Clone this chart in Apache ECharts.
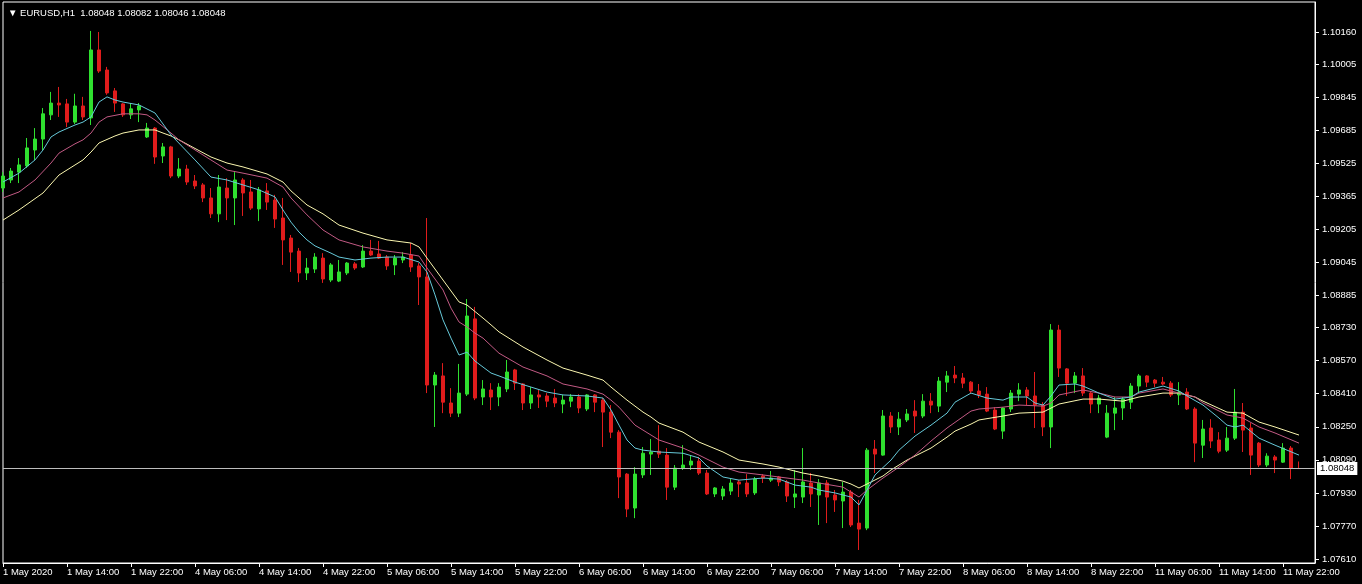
<!DOCTYPE html>
<html><head><meta charset="utf-8">
<script src="https://cdn.jsdelivr.net/npm/echarts@6/dist/echarts.min.js"></script>
<style>html,body{margin:0;padding:0;background:#000;}#c{width:1362px;height:584px;}</style>
</head><body><div id="c"></div>
<script>
const symbolName = 'EURUSD,H1';
const sessions = [['1 May',6,23],['4 May',0,23],['5 May',0,23],['6 May',0,23],['7 May',0,23],['8 May',0,23],['11 May',0,23],['12 May',0,0]];
const tickLabels = ['1 May 2020','1 May 14:00','1 May 22:00','4 May 06:00','4 May 14:00','4 May 22:00','5 May 06:00','5 May 14:00','5 May 22:00','6 May 06:00','6 May 14:00','6 May 22:00','7 May 06:00','7 May 14:00','7 May 22:00','8 May 06:00','8 May 14:00','8 May 22:00','11 May 06:00','11 May 14:00','11 May 22:00'];
const yTicks = [1.07610,1.07770,1.07930,1.08090,1.08250,1.08410,1.08570,1.08730,1.08885,1.09045,1.09205,1.09365,1.09525,1.09685,1.09845,1.10005,1.10160];

const opens = [
1.09405,1.09444,1.09482,1.09512,1.09589,1.09642,1.09759,1.09816,1.09812,1.09724,
1.09802,1.09744,1.10073,1.09976,1.09875,1.09812,1.09759,1.09783,1.09652,1.09695,
1.09560,1.09604,1.09463,1.09497,1.09439,1.09420,1.09357,1.09280,1.09405,1.09357,
1.09444,1.09386,1.09304,1.09391,1.09347,1.09260,1.09163,1.09100,1.08994,1.09013,
1.09066,1.08960,1.08955,1.08994,1.09038,1.09023,1.09100,1.09086,1.09071,1.09033,
1.09057,1.09081,1.09028,1.08975,1.08452,1.08496,1.08365,1.08316,1.08408,1.08772,
1.08394,1.08428,1.08394,1.08433,1.08525,1.08457,1.08365,1.08404,1.08399,1.08389,
1.08360,1.08374,1.08394,1.08336,1.08404,1.08379,1.08321,1.08224,1.08021,1.07857,
1.08017,1.08118,1.08132,1.08113,1.07958,1.08050,1.08065,1.08084,1.08026,1.07925,
1.07915,1.07939,1.07983,1.07978,1.07930,1.08012,1.07992,1.08007,1.07983,1.07910,
1.07910,1.07978,1.07920,1.07978,1.07920,1.07891,1.07934,1.07784,1.07760,1.08142,
1.08113,1.08302,1.08249,1.08283,1.08326,1.08302,1.08374,1.08350,1.08466,1.08500,
1.08486,1.08466,1.08423,1.08408,1.08331,1.08229,1.08336,1.08408,1.08428,1.08399,
1.08355,1.08249,1.08718,1.08530,1.08461,1.08496,1.08413,1.08360,1.08200,1.08316,
1.08341,1.08369,1.08447,1.08496,1.08476,1.08466,1.08461,1.08404,1.08418,1.08336,
1.08161,1.08244,1.08186,1.08137,1.08195,1.08321,1.08244,1.08171,1.08065,1.08104,
1.08079,1.08147,1.08048];
const highs = [
1.09482,1.09502,1.09550,1.09647,1.09695,1.09792,1.09870,1.09894,1.09836,1.09861,
1.09846,1.10165,1.10160,1.09991,1.09889,1.09816,1.09816,1.09816,1.09720,1.09700,
1.09623,1.09609,1.09550,1.09517,1.09468,1.09429,1.09405,1.09468,1.09453,1.09482,
1.09453,1.09444,1.09410,1.09429,1.09372,1.09357,1.09178,1.09115,1.09066,1.09090,
1.09090,1.09042,1.09057,1.09047,1.09047,1.09129,1.09154,1.09149,1.09081,1.09081,
1.09095,1.09139,1.09042,1.09260,1.08515,1.08558,1.08437,1.08554,1.08868,1.08830,
1.08476,1.08461,1.08461,1.08573,1.08530,1.08461,1.08442,1.08428,1.08413,1.08433,
1.08404,1.08408,1.08408,1.08408,1.08408,1.08389,1.08355,1.08234,1.08026,1.08055,
1.08152,1.08191,1.08258,1.08147,1.08065,1.08161,1.08113,1.08104,1.08041,1.07958,
1.07963,1.07997,1.07992,1.08021,1.08007,1.08021,1.08036,1.08012,1.07992,1.08041,
1.08147,1.08026,1.07997,1.07992,1.07944,1.07983,1.07944,1.07896,1.08147,1.08186,
1.08331,1.08321,1.08321,1.08336,1.08379,1.08408,1.08413,1.08491,1.08520,1.08544,
1.08510,1.08471,1.08457,1.08442,1.08345,1.08345,1.08428,1.08461,1.08442,1.08515,
1.08369,1.08747,1.08743,1.08534,1.08515,1.08534,1.08418,1.08404,1.08355,1.08394,
1.08394,1.08461,1.08505,1.08500,1.08481,1.08491,1.08471,1.08466,1.08437,1.08345,
1.08283,1.08287,1.08224,1.08249,1.08433,1.08365,1.08268,1.08176,1.08122,1.08113,
1.08171,1.08157,1.08082];
const lows = [
1.09386,1.09429,1.09429,1.09502,1.09541,1.09589,1.09734,1.09749,1.09700,1.09715,
1.09734,1.09710,1.09962,1.09856,1.09773,1.09749,1.09739,1.09724,1.09647,1.09522,
1.09526,1.09453,1.09453,1.09420,1.09400,1.09337,1.09260,1.09240,1.09250,1.09226,
1.09270,1.09299,1.09245,1.09299,1.09212,1.09033,1.08999,1.08950,1.08960,1.08994,
1.08946,1.08950,1.08950,1.08984,1.09009,1.09018,1.09076,1.09062,1.09009,1.08984,
1.09042,1.08999,1.08839,1.08413,1.08249,1.08316,1.08297,1.08297,1.08399,1.08379,
1.08355,1.08331,1.08350,1.08418,1.08428,1.08331,1.08336,1.08341,1.08345,1.08345,
1.08316,1.08345,1.08316,1.08326,1.08321,1.08152,1.08195,1.07905,1.07813,1.07808,
1.08002,1.08017,1.08099,1.07896,1.07944,1.08041,1.08041,1.08017,1.07920,1.07910,
1.07896,1.07920,1.07910,1.07910,1.07920,1.07978,1.07983,1.07963,1.07886,1.07857,
1.07881,1.07862,1.07775,1.07784,1.07838,1.07760,1.07765,1.07654,1.07750,1.08026,
1.08110,1.08220,1.08210,1.08273,1.08220,1.08292,1.08316,1.08321,1.08418,1.08461,
1.08437,1.08413,1.08389,1.08321,1.08234,1.08191,1.08321,1.08374,1.08355,1.08244,
1.08205,1.08147,1.08491,1.08399,1.08413,1.08399,1.08316,1.08316,1.08195,1.08234,
1.08283,1.08336,1.08413,1.08442,1.08442,1.08452,1.08394,1.08355,1.08331,1.08079,
1.08099,1.08147,1.08122,1.08128,1.08186,1.08128,1.08017,1.08055,1.08055,1.08026,
1.08075,1.07997,1.08046];
const closes = [
1.09463,1.09487,1.09517,1.09599,1.09642,1.09764,1.09816,1.09807,1.09724,1.09802,
1.09749,1.10073,1.09971,1.09865,1.09816,1.09759,1.09788,1.09802,1.09695,1.09555,
1.09604,1.09463,1.09497,1.09434,1.09415,1.09357,1.09280,1.09410,1.09357,1.09444,
1.09381,1.09308,1.09396,1.09337,1.09255,1.09154,1.09095,1.08994,1.09018,1.09071,
1.08965,1.09033,1.08999,1.09042,1.09018,1.09100,1.09081,1.09066,1.09028,1.09066,
1.09071,1.09023,1.08975,1.08452,1.08500,1.08369,1.08316,1.08413,1.08786,1.08389,
1.08433,1.08394,1.08442,1.08515,1.08461,1.08365,1.08404,1.08394,1.08374,1.08365,
1.08379,1.08394,1.08341,1.08404,1.08369,1.08321,1.08224,1.08007,1.07852,1.08021,
1.08122,1.08128,1.08118,1.07958,1.08050,1.08065,1.08084,1.08026,1.07925,1.07954,
1.07949,1.07978,1.07973,1.07925,1.07997,1.08002,1.08002,1.07983,1.07915,1.07925,
1.07983,1.07925,1.07978,1.07910,1.07896,1.07934,1.07775,1.07755,1.08137,1.08118,
1.08302,1.08249,1.08287,1.08312,1.08302,1.08374,1.08355,1.08471,1.08496,1.08486,
1.08461,1.08423,1.08404,1.08326,1.08239,1.08341,1.08413,1.08428,1.08399,1.08355,
1.08249,1.08718,1.08534,1.08461,1.08496,1.08413,1.08360,1.08389,1.08316,1.08341,
1.08384,1.08447,1.08496,1.08466,1.08461,1.08457,1.08404,1.08418,1.08336,1.08171,
1.08239,1.08181,1.08132,1.08195,1.08321,1.08234,1.08113,1.08065,1.08108,1.08089,
1.08147,1.08050,1.08048];

const maFast = [[0,1.09434],[2,1.09477],[4,1.09541],[5,1.09589],[6,1.09652],[7,1.09676],[9,1.09710],[10,1.09724],[11,1.09749],[12,1.09821],[13,1.09846],[14,1.09831],[15,1.09821],[17,1.09807],[19,1.09768],[21,1.09662],[24,1.09541],[26,1.09458],[28,1.09444],[30,1.09420],[32,1.09396],[34,1.09362],[35,1.09299],[36,1.09240],[37,1.09192],[38,1.09154],[39,1.09125],[41,1.09090],[42,1.09071],[44,1.09057],[46,1.09066],[48,1.09071],[50,1.09071],[52,1.09047],[53,1.08999],[54,1.08888],[55,1.08767],[56,1.08679],[57,1.08597],[58,1.08611],[59,1.08568],[61,1.08510],[62,1.08496],[64,1.08466],[66,1.08442],[68,1.08418],[70,1.08404],[73,1.08399],[75,1.08389],[76,1.08331],[77,1.08258],[78,1.08186],[79,1.08147],[80,1.08137],[82,1.08128],[85,1.08122],[87,1.08099],[88,1.08060],[90,1.08007],[92,1.07992],[95,1.08002],[97,1.07997],[99,1.07968],[101,1.07958],[102,1.07944],[104,1.07930],[106,1.07910],[107,1.07872],[108,1.07944],[109,1.08017],[111,1.08089],[112,1.08137],[114,1.08205],[116,1.08258],[118,1.08316],[119,1.08369],[121,1.08413],[123,1.08389],[125,1.08379],[126,1.08394],[128,1.08394],[129,1.08365],[130,1.08355],[131,1.08399],[132,1.08452],[134,1.08457],[135,1.08447],[137,1.08413],[139,1.08384],[141,1.08394],[142,1.08418],[145,1.08447],[147,1.08423],[148,1.08399],[150,1.08355],[152,1.08292],[153,1.08258],[154,1.08249],[155,1.08258],[157,1.08195],[159,1.08161],[162,1.08113]];
const maMid = [[0,1.09357],[2,1.09386],[4,1.09444],[6,1.09526],[7,1.09574],[9,1.09619],[10,1.09638],[11,1.09671],[12,1.09724],[13,1.09749],[15,1.09764],[17,1.09764],[18,1.09759],[19,1.09734],[21,1.09671],[22,1.09638],[25,1.09565],[28,1.09492],[30,1.09477],[33,1.09453],[35,1.09410],[36,1.09357],[38,1.09275],[40,1.09202],[42,1.09154],[45,1.09120],[48,1.09100],[50,1.09090],[52,1.09076],[53,1.09018],[55,1.08912],[56,1.08824],[57,1.08757],[58,1.08733],[59,1.08703],[60,1.08679],[62,1.08606],[65,1.08539],[68,1.08496],[70,1.08457],[73,1.08433],[75,1.08408],[76,1.08379],[77,1.08345],[79,1.08258],[81,1.08210],[82,1.08186],[85,1.08147],[87,1.08113],[90,1.08055],[92,1.08031],[95,1.08017],[97,1.08007],[100,1.07992],[102,1.07978],[105,1.07958],[106,1.07934],[107,1.07910],[108,1.07944],[110,1.08002],[112,1.08055],[114,1.08113],[116,1.08181],[118,1.08244],[121,1.08326],[122,1.08336],[125,1.08345],[127,1.08355],[130,1.08350],[131,1.08365],[132,1.08404],[135,1.08428],[137,1.08413],[139,1.08394],[141,1.08394],[142,1.08413],[145,1.08433],[147,1.08413],[149,1.08394],[150,1.08365],[153,1.08307],[155,1.08292],[157,1.08249],[159,1.08220],[162,1.08171]];
const maSlow = [[0,1.09250],[2,1.09299],[5,1.09381],[7,1.09468],[10,1.09541],[11,1.09579],[12,1.09623],[14,1.09657],[15,1.09671],[17,1.09686],[19,1.09686],[20,1.09671],[21,1.09657],[22,1.09638],[26,1.09555],[28,1.09526],[30,1.09507],[33,1.09473],[35,1.09434],[36,1.09391],[38,1.09323],[40,1.09280],[42,1.09226],[45,1.09187],[48,1.09154],[51,1.09139],[52,1.09120],[53,1.09066],[55,1.08960],[57,1.08854],[58,1.08839],[60,1.08776],[61,1.08743],[62,1.08709],[65,1.08636],[68,1.08573],[70,1.08534],[73,1.08500],[75,1.08476],[76,1.08442],[78,1.08379],[80,1.08321],[81,1.08297],[82,1.08268],[85,1.08224],[87,1.08176],[90,1.08128],[92,1.08089],[95,1.08070],[97,1.08055],[100,1.08026],[102,1.08012],[105,1.07987],[106,1.07973],[107,1.07954],[108,1.07973],[110,1.08012],[111,1.08041],[113,1.08089],[116,1.08147],[118,1.08200],[119,1.08229],[121,1.08263],[122,1.08283],[125,1.08302],[127,1.08316],[130,1.08321],[132,1.08360],[135,1.08384],[137,1.08384],[140,1.08374],[141,1.08384],[142,1.08394],[145,1.08413],[147,1.08413],[149,1.08394],[150,1.08374],[153,1.08321],[155,1.08316],[157,1.08273],[159,1.08249],[162,1.08210]];

const categories = [];
sessions.forEach(function (s) { for (let h = s[1]; h <= s[2]; h++) categories.push(s[0] + ' ' + String(h).padStart(2, '0') + ':00'); });
categories.push('', '');

const candleData = opens.map(function (o, i) { return [o, closes[i], lows[i], highs[i]]; });
const last = opens.length - 1;
const headerVals = [opens[last], highs[last], lows[last], closes[last]].map(function (v) { return v.toFixed(5); }).join(' ');
const FONT = 'Liberation Sans';

const chart = echarts.init(document.getElementById('c'), null, { renderer: 'canvas' });
chart.setOption({
  backgroundColor: '#000',
  animation: false,
  title: {
    text: '\u25BC ' + symbolName + '  ' + headerVals,
    left: 3, top: 3,
    textStyle: { color: '#fff', fontSize: 9.5, fontWeight: 'normal', fontFamily: FONT }
  },
  grid: { left: 3, right: 47, top: 2, bottom: 21, show: true, borderColor: '#fff', borderWidth: 1, backgroundColor: '#000' },
  xAxis: {
    type: 'category', data: categories, boundaryGap: false,
    axisLine: { show: true, lineStyle: { color: '#fff', width: 1 } },
    axisTick: { show: true, interval: 7, length: 4, lineStyle: { color: '#fff' } },
    axisLabel: {
      interval: 7, align: 'left', margin: 4, color: '#fff', fontSize: 9.5, fontFamily: FONT,
      hideOverlap: false,
      formatter: function (v, i) { return i % 8 === 0 ? (tickLabels[i / 8] || '') : ''; }
    },
    splitLine: { show: false }
  },
  yAxis: {
    type: 'value', position: 'right', min: 1.07591, max: 1.10305,
    axisLine: { show: true, lineStyle: { color: '#fff', width: 1 } },
    axisTick: { show: true, length: 4, customValues: yTicks, lineStyle: { color: '#fff' } },
    axisLabel: { customValues: yTicks, color: '#fff', fontSize: 9.5, fontFamily: FONT, margin: 7,
      formatter: function (v) { return v.toFixed(5); } },
    splitLine: { show: false }
  },
  series: [
    {
      type: 'candlestick', data: candleData, barWidth: 4, silent: true,
      itemStyle: { color: '#2fe02f', color0: '#e01c1c', borderColor: '#2fe02f', borderColor0: '#e01c1c', borderWidth: 1 }
    },
    { type: 'line', data: maSlow, symbol: 'none', silent: true, lineStyle: { color: '#fbf7b0', width: 1 }, z: 3 },
    { type: 'line', data: maMid, symbol: 'none', silent: true, lineStyle: { color: '#c25a84', width: 1 }, z: 3 },
    {
      type: 'line', data: maFast, symbol: 'none', silent: true, lineStyle: { color: '#66c9d9', width: 1 }, z: 3,
      markLine: {
        symbol: ['none', 'none'], silent: true, animation: false, precision: 5,
        lineStyle: { color: '#bdbdbd', width: 1, type: 'solid' },
        label: { show: true, position: 'end', distance: 2, formatter: closes[last].toFixed(5),
          color: '#000', backgroundColor: '#fff', padding: [2, 3, 1, 3], fontSize: 9.5, fontFamily: FONT },
        data: [{ yAxis: closes[last] }]
      }
    }
  ]
});
</script></body></html>
